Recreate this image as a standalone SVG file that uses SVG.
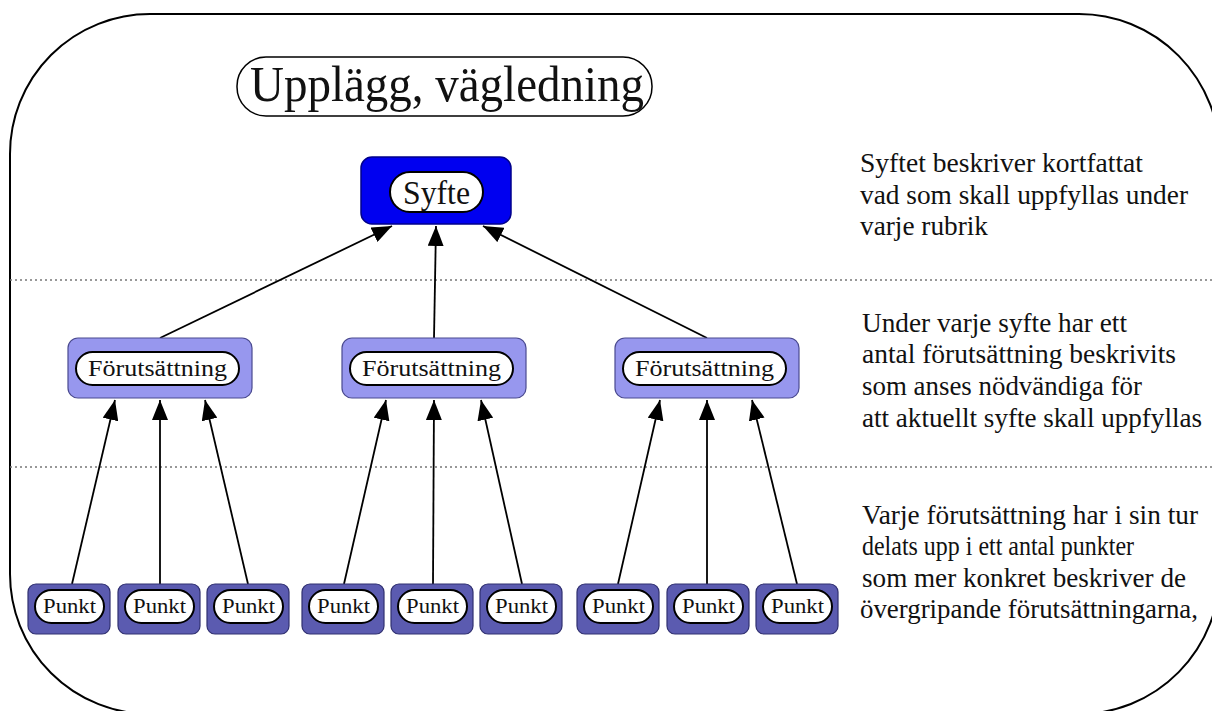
<svg xmlns="http://www.w3.org/2000/svg" width="1212" height="711" viewBox="0 0 1212 711">
  <defs>
    <marker id="arrow" viewBox="0 0 20 16" refX="20" refY="8" markerWidth="20" markerHeight="16" markerUnits="userSpaceOnUse" orient="auto">
      <path d="M0,0 L20,8 L0,16 Z" fill="#000"/>
    </marker>
    <style>
      text { font-family: "Liberation Serif", "DejaVu Serif", "Times New Roman", serif; fill: #111; }
      .pill { fill: #fff; stroke: #000; stroke-width: 2; }
      .conn { stroke: #000; stroke-width: 1.8; fill: none; marker-end: url(#arrow); }
      .sep { stroke: #777; stroke-width: 1.5; stroke-dasharray: 2 3; }
      .goal { fill: #0000f0; stroke: #00008a; stroke-width: 1.5; }
      .cond { fill: #9797ee; stroke: #4a4a90; stroke-width: 1.2; }
      .point { fill: #5b5bb0; stroke: #303070; stroke-width: 1.2; }
      .cond-label { font-size: 24px; }
      .point-label { font-size: 20px; }
      .note { font-size: 28px; }
    </style>
  </defs>

  <rect width="1212" height="711" fill="#fff"/>

  <!-- outer frame -->
  <path d="M150,14 H1079 A141,143 0 0 1 1220,157 V571 A141,143 0 0 1 1079,714 H150 A140,140 0 0 1 10,574 V154 A140,140 0 0 1 150,14 Z" fill="none" stroke="#000" stroke-width="2"/>

  <!-- level separators -->
  <line class="sep" x1="10" y1="280" x2="1212" y2="280"/>
  <line class="sep" x1="10" y1="467" x2="1212" y2="467"/>

  <!-- title -->
  <g id="title">
    <rect x="237" y="57" width="415" height="59" rx="29" ry="29" fill="#fff" stroke="#000" stroke-width="1.5"/>
    <text x="250" y="101" font-size="50" textLength="394" lengthAdjust="spacingAndGlyphs">Upplägg, vägledning</text>
  </g>

  <!-- connectors -->
  <g id="connectors">
    <line class="conn" x1="160" y1="338" x2="392" y2="226"/>
    <line class="conn" x1="434" y1="338" x2="436" y2="226"/>
    <line class="conn" x1="707" y1="338" x2="483" y2="226"/>

    <line class="conn" x1="72" y1="584" x2="115" y2="400"/>
    <line class="conn" x1="160" y1="584" x2="160" y2="400"/>
    <line class="conn" x1="248" y1="584" x2="205" y2="400"/>

    <line class="conn" x1="344" y1="584" x2="386" y2="400"/>
    <line class="conn" x1="433" y1="584" x2="434" y2="400"/>
    <line class="conn" x1="522" y1="584" x2="481" y2="400"/>

    <line class="conn" x1="618" y1="584" x2="660" y2="400"/>
    <line class="conn" x1="707" y1="584" x2="707" y2="400"/>
    <line class="conn" x1="797" y1="584" x2="752" y2="400"/>
  </g>

  <!-- goal -->
  <g id="syfte">
    <rect class="goal" x="361" y="157" width="150" height="67" rx="11"/>
    <rect class="pill" x="390" y="172" width="93" height="40" rx="20"/>
    <text x="403" y="204" font-size="33" textLength="67" lengthAdjust="spacingAndGlyphs">Syfte</text>
  </g>

  <!-- conditions -->
  <g id="forutsattning-1">
    <rect class="cond" x="68" y="338" width="184" height="60" rx="10"/>
    <rect class="pill" x="76" y="352" width="163" height="33" rx="16.5"/>
    <text class="cond-label" x="88" y="376" textLength="139" lengthAdjust="spacingAndGlyphs">Förutsättning</text>
  </g>
  <g id="forutsattning-2">
    <rect class="cond" x="342" y="338" width="184" height="60" rx="10"/>
    <rect class="pill" x="350" y="352" width="163" height="33" rx="16.5"/>
    <text class="cond-label" x="362" y="376" textLength="139" lengthAdjust="spacingAndGlyphs">Förutsättning</text>
  </g>
  <g id="forutsattning-3">
    <rect class="cond" x="615" y="338" width="184" height="60" rx="10"/>
    <rect class="pill" x="623" y="352" width="163" height="33" rx="16.5"/>
    <text class="cond-label" x="635" y="376" textLength="139" lengthAdjust="spacingAndGlyphs">Förutsättning</text>
  </g>

  <!-- points -->
  <g id="punkt-1">
    <rect class="point" x="28" y="584" width="82" height="50" rx="8"/>
    <rect class="pill" x="35" y="590" width="69" height="33" rx="16.5"/>
    <text class="point-label" x="43" y="613" textLength="53" lengthAdjust="spacingAndGlyphs">Punkt</text>
  </g>
  <g id="punkt-2">
    <rect class="point" x="118" y="584" width="82" height="50" rx="8"/>
    <rect class="pill" x="125" y="590" width="69" height="33" rx="16.5"/>
    <text class="point-label" x="133" y="613" textLength="53" lengthAdjust="spacingAndGlyphs">Punkt</text>
  </g>
  <g id="punkt-3">
    <rect class="point" x="207" y="584" width="82" height="50" rx="8"/>
    <rect class="pill" x="214" y="590" width="69" height="33" rx="16.5"/>
    <text class="point-label" x="222" y="613" textLength="53" lengthAdjust="spacingAndGlyphs">Punkt</text>
  </g>
  <g id="punkt-4">
    <rect class="point" x="302" y="584" width="82" height="50" rx="8"/>
    <rect class="pill" x="309" y="590" width="69" height="33" rx="16.5"/>
    <text class="point-label" x="317" y="613" textLength="53" lengthAdjust="spacingAndGlyphs">Punkt</text>
  </g>
  <g id="punkt-5">
    <rect class="point" x="391" y="584" width="82" height="50" rx="8"/>
    <rect class="pill" x="398" y="590" width="69" height="33" rx="16.5"/>
    <text class="point-label" x="406" y="613" textLength="53" lengthAdjust="spacingAndGlyphs">Punkt</text>
  </g>
  <g id="punkt-6">
    <rect class="point" x="480" y="584" width="82" height="50" rx="8"/>
    <rect class="pill" x="487" y="590" width="69" height="33" rx="16.5"/>
    <text class="point-label" x="495" y="613" textLength="53" lengthAdjust="spacingAndGlyphs">Punkt</text>
  </g>
  <g id="punkt-7">
    <rect class="point" x="577" y="584" width="82" height="50" rx="8"/>
    <rect class="pill" x="584" y="590" width="69" height="33" rx="16.5"/>
    <text class="point-label" x="592" y="613" textLength="53" lengthAdjust="spacingAndGlyphs">Punkt</text>
  </g>
  <g id="punkt-8">
    <rect class="point" x="667" y="584" width="82" height="50" rx="8"/>
    <rect class="pill" x="674" y="590" width="69" height="33" rx="16.5"/>
    <text class="point-label" x="682" y="613" textLength="53" lengthAdjust="spacingAndGlyphs">Punkt</text>
  </g>
  <g id="punkt-9">
    <rect class="point" x="756" y="584" width="82" height="50" rx="8"/>
    <rect class="pill" x="763" y="590" width="69" height="33" rx="16.5"/>
    <text class="point-label" x="771" y="613" textLength="53" lengthAdjust="spacingAndGlyphs">Punkt</text>
  </g>

  <!-- level notes -->
  <g id="note-syfte">
    <text class="note" x="860" y="172" textLength="283" lengthAdjust="spacingAndGlyphs">Syftet beskriver kortfattat</text>
    <text class="note" x="860" y="204" textLength="328" lengthAdjust="spacingAndGlyphs">vad som skall uppfyllas under</text>
    <text class="note" x="860" y="235" textLength="128" lengthAdjust="spacingAndGlyphs">varje rubrik</text>
  </g>
  <g id="note-forutsattning">
    <text class="note" x="862" y="332" textLength="265" lengthAdjust="spacingAndGlyphs">Under varje syfte har ett</text>
    <text class="note" x="862" y="363" textLength="314" lengthAdjust="spacingAndGlyphs">antal förutsättning beskrivits</text>
    <text class="note" x="862" y="395" textLength="280" lengthAdjust="spacingAndGlyphs">som anses nödvändiga för</text>
    <text class="note" x="862" y="427" textLength="340" lengthAdjust="spacingAndGlyphs">att aktuellt syfte skall uppfyllas</text>
  </g>
  <g id="note-punkt">
    <text class="note" x="862" y="524" textLength="336" lengthAdjust="spacingAndGlyphs">Varje förutsättning har i sin tur</text>
    <text class="note" x="862" y="555" textLength="272" lengthAdjust="spacingAndGlyphs">delats upp i ett antal punkter</text>
    <text class="note" x="862" y="587" textLength="324" lengthAdjust="spacingAndGlyphs">som mer konkret beskriver de</text>
    <text class="note" x="860" y="618" font-size="26" textLength="338" lengthAdjust="spacingAndGlyphs">övergripande förutsättningarna,</text>
  </g>
</svg>
